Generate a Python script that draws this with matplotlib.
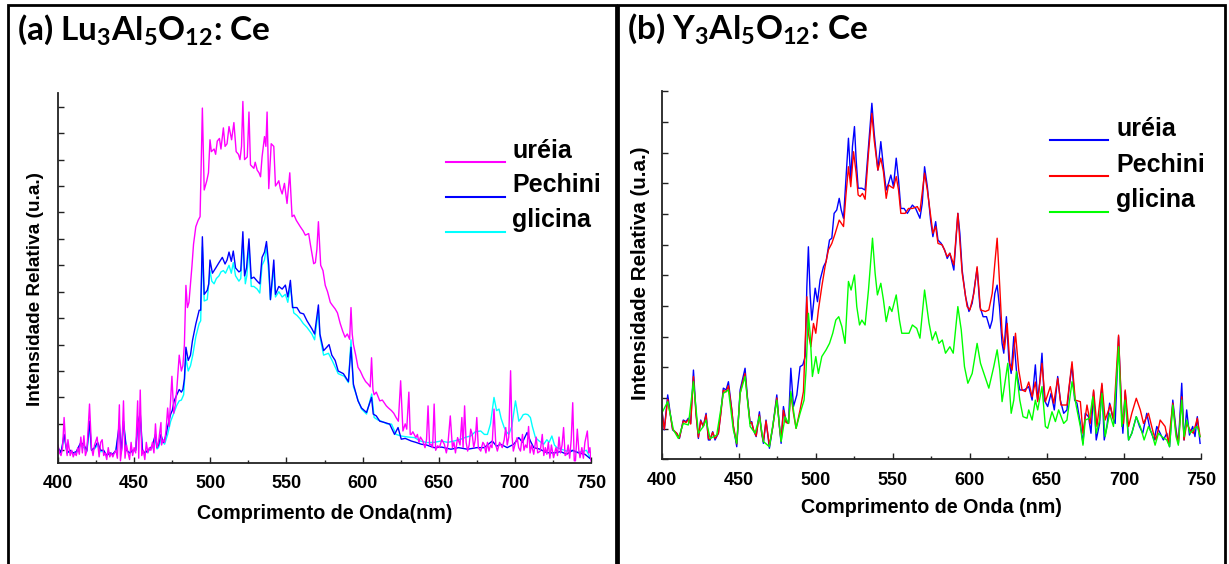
import matplotlib
matplotlib.use('Agg')
import matplotlib.pyplot as plt
from matplotlib.lines import Line2D

plt.rcParams['font.family'] = ['Liberation Sans', 'DejaVu Sans']
plt.rcParams['font.weight'] = 'bold'
plt.rcParams['mathtext.fontset'] = 'custom'
plt.rcParams['mathtext.rm'] = 'Lato:bold'
plt.rcParams['mathtext.bf'] = 'Lato:bold'

# (a) Lu3Al5O12:Ce  -- (comprimento de onda nm, intensidade relativa)
a_ureia = [
    (400, 0.2), (401, -0.1), (402, -0.2), (403, 0.1), (404, 1.24), (405, 0.3), (406, -0.2), (406.5, 0.4),
    (408, -0.2), (409, 0.0), (410, -0.25), (411, -0.1), (412, -0.2), (413, 0.1), (414, -0.15), (415, 0.5),
    (416, -0.1), (417, 0.55), (418, -0.2), (419, 0.0), (420.7, 1.75), (422, 0.1), (423, -0.2), (424, 0.2),
    (425.7, 0.5), (427, -0.25), (428, 0.3), (429, 0.4), (430, -0.2), (431, -0.1), (432, -0.35), (433, 0.1),
    (434, -0.25), (435, -0.1), (436, -0.25), (437, -0.1), (438, 0.0), (439, -0.3), (440.3, 1.72), (441, -0.4),
    (442, 0.1), (443, 1.87), (444, -0.3), (445, 0.2), (446, -0.1), (447, -0.35), (448, 0.3), (449, -0.2),
    (450, 0.1), (451, -0.1), (452.3, 1.87), (453, -0.3), (454, 2.28), (455, -0.2), (456, 0.0), (457, -0.35),
    (458, 0.3), (459, -0.1), (460, 0.1), (461, 0.0), (462, 0.3), (463, -0.1), (464, 1.0), (465, 0.1),
    (466, 0.3), (467.6, 1.05), (468, 0.2), (469, 0.4), (470, 0.3), (471, 0.8), (472, 1.6), (473, 0.9),
    (474.8, 2.8), (476, 1.4), (477, 1.7), (478, 2.3), (479.6, 3.6), (481, 3.0), (482, 3.2), (483, 4.0),
    (484, 6.24), (485, 5.4), (486, 5.6), (487, 6.3), (488, 7.0), (489, 7.8), (490.5, 8.46), (492, 8.7),
    (493.3, 8.84), (494.8, 12.95), (496, 9.85), (497.7, 10.2), (498.8, 10.5), (499.8, 11.75), (500.7, 11.3),
    (502.5, 11.4), (503.5, 11.2), (504.6, 11.7), (506, 11.8), (507, 11.4), (508.6, 12.2), (509.7, 11.5),
    (511, 11.6), (512.3, 12.25), (514, 11.75), (515.5, 12.4), (517, 11.3), (518.5, 11.2), (519.5, 11.0),
    (520.5, 11.5), (521.4, 13.2), (522.5, 11.0), (524.3, 11.1), (525.4, 12.8), (526.4, 10.8), (528.6, 10.67),
    (529.5, 10.9), (530.8, 10.6), (532, 10.5), (533, 10.35), (534, 11.1), (535.6, 11.87), (536.5, 11.5),
    (537.3, 12.8), (538.4, 9.9), (540, 11.6), (541.7, 11.5), (542.8, 10.0), (544, 10.1), (545, 10.2),
    (546, 9.9), (547.2, 9.7), (548.7, 10.1), (550.4, 9.34), (552.2, 10.5), (553.7, 8.84), (555, 8.9),
    (556.5, 8.7), (559.1, 8.46), (561, 8.3), (562.4, 8.14), (564.6, 8.2), (565.7, 7.8), (567.9, 7.06),
    (569, 7.1), (570, 7.6), (571, 8.65), (572.5, 7.0), (574, 6.8), (575.5, 6.24), (577, 6.0), (578.8, 5.6),
    (580, 5.5), (582, 5.35), (583.5, 5.2), (585.3, 4.8), (587, 4.5), (588.5, 4.28), (590, 4.4), (591.5, 4.2),
    (592.4, 5.4), (593.2, 4.4), (594, 4.0), (595.5, 3.6), (597, 3.14), (598.5, 3.0), (600.4, 2.76),
    (602, 2.6), (603.7, 2.5), (605, 2.4), (605.9, 3.5), (606.8, 2.3), (607.6, 2.1), (609, 2.2), (611.3, 1.87),
    (613, 1.9), (615.6, 1.68), (617, 1.6), (619, 1.5), (620.5, 1.4), (622, 1.24), (623.5, 1.1), (625, 2.63),
    (626.5, 0.73), (628, 1.0), (629, 0.8), (630.4, 2.2), (631.3, 0.6), (632, 0.6), (633, 0.7), (635, 0.48),
    (636, 0.6), (637, 0.3), (638, 0.5), (639.6, 0.35), (641, 0.1), (642, 0.4), (643, 1.68), (644, 0.2),
    (645, 0.23), (646, 0.1), (647, 1.75), (648, 0.0), (649.3, 0.17), (650.5, 0.1), (652, 0.4), (653.7, 0.23),
    (655, -0.1), (656, 0.2), (657.6, 1.3), (659, 0.1), (660, 0.3), (661, -0.1), (662.4, 0.48), (664, 0.2),
    (665.2, 1.24), (666, 0.1), (667, 1.68), (668, 0.3), (669, -0.03), (670, 0.2), (671, 0.8), (672, 0.6),
    (673, 0.1), (674, 0.4), (675, 1.24), (676, 0.1), (677.6, -0.03), (679, 0.3), (679.8, 0.23), (681, -0.1),
    (682, 0.3), (683, -0.03), (684, 0.2), (685, 0.1), (686.3, 1.56), (687.5, 0.2), (688.5, -0.03), (690, 0.3),
    (691.7, 0.1), (693, 0.4), (694, 0.86), (695, 0.2), (696, 0.5), (697.2, 3.01), (698.2, 0.5), (699, -0.03),
    (700, 0.2), (701.5, 0.48), (702.5, 0.1), (703.7, -0.03), (705, 0.6), (706, 0.0), (707, 0.2), (708, 0.1),
    (709, 0.9), (710, -0.1), (711, 0.2), (712.4, -0.15), (714, 0.5), (715, -0.1), (716.7, -0.03), (718, 0.6),
    (719, -0.2), (720, 0.1), (721, -0.15), (722, 0.3), (723, -0.3), (724, 0.2), (725.4, -0.28), (727, 0.1),
    (728, -0.2), (729, 0.5), (730, -0.1), (731, 0.2), (732, 0.86), (733, -0.2), (734, -0.15), (735, 0.2),
    (736, -0.3), (737, 0.4), (738, 1.8), (739, -0.4), (739.8, -0.4), (741, 0.8), (742, 0.0), (742.8, -0.28),
    (744, 0.1), (745, -0.3), (746, 0.3), (747.6, 0.73), (748.5, -0.1), (749.3, 0.1), (750, -0.4),
]
a_pechini = [
    (400, 0.1), (402, -0.1), (404, 0.6), (406, -0.1), (408, 0.0), (410, -0.1), (412, -0.05), (415, 0.3),
    (417, 0.2), (419, 0.0), (420.7, 1.1), (422, 0.0), (424, 0.1), (426, 0.3), (428, 0.0), (430, 0.0),
    (432, -0.2), (434, -0.1), (436, -0.15), (438, 0.0), (440.3, 1.0), (441.5, -0.1), (443, 1.1), (445, 0.0),
    (447, -0.1), (449, 0.0), (451, 0.0), (452.3, 1.0), (454, 1.4), (455.5, 0.0), (457, -0.1), (459, 0.0),
    (461, 0.1), (462, 0.2), (464, 0.6), (465, 0.1), (466, 0.2), (467.6, 0.6), (469, 0.3), (470, 0.4),
    (471, 0.6), (472, 0.9), (474, 1.37), (475, 1.5), (476.3, 1.87), (478, 2.1), (479.6, 2.3), (481, 2.2),
    (482, 2.3), (483, 2.7), (484, 3.9), (485.5, 3.4), (487, 3.6), (488.3, 4.15), (490.5, 4.78), (492.7, 5.3),
    (493.7, 5.3), (494.8, 8.08), (496, 5.9), (498, 6.05), (499, 6.3), (499.8, 7.2), (501.4, 6.7), (503.6, 6.9),
    (505.7, 7.1), (507.9, 7.3), (509.7, 7.05), (511, 7.2), (512.3, 7.5), (513.8, 7.15), (515.1, 7.54),
    (516.6, 6.9), (518.8, 6.75), (520, 6.8), (521.4, 8.27), (522.5, 6.6), (523.8, 6.9), (525.4, 8.0),
    (526.9, 6.5), (528.6, 6.55), (530.8, 6.4), (532.5, 6.3), (534, 7.3), (535.6, 7.5), (536.9, 7.9),
    (538.4, 7.0), (539.5, 5.7), (541.7, 7.2), (542.8, 5.9), (545, 6.2), (547.2, 6.1), (549.3, 6.25),
    (550.9, 5.8), (552.6, 6.43), (554, 5.4), (556.9, 5.4), (559, 5.2), (561.3, 5.16), (563.5, 4.9),
    (566.7, 4.6), (568.5, 4.4), (571, 5.5), (572, 4.4), (574.4, 3.77), (576.5, 3.9), (578, 4.0), (579.8, 3.6),
    (582, 3.4), (584, 3.0), (587.4, 2.9), (590.7, 2.6), (592.4, 3.9), (594, 2.5), (597, 1.87), (599.3, 1.6),
    (602.6, 1.43), (605.9, 2.0), (607, 1.37), (609, 1.3), (611.3, 1.1), (614.6, 1.05), (617.8, 0.99),
    (621, 0.6), (623.3, 0.86), (625.4, 0.42), (628, 0.45), (632, 0.35), (635, 0.3), (638.5, 0.23), (642, 0.2),
    (647, 0.1), (652, 0.12), (658, 0.04), (663, 0.1), (669, 0.04), (675, 0.1), (679.8, 0.1), (685.2, 0.35),
    (688, 0.15), (690.6, 0.23), (695, 0.1), (699.3, 0.23), (702.6, 0.48), (705, 0.3), (708, 0.67),
    (710.2, 0.35), (712.4, 0.1), (716, 0.05), (721, -0.09), (726, -0.1), (730, -0.05), (734, -0.15),
    (738, 0.0), (742, -0.1), (746, -0.15), (750, -0.34),
]
a_glicina = [
    (400, 0.05), (402, -0.1), (404, 0.5), (406, -0.1), (408, -0.05), (410, -0.1), (412, -0.1), (415, 0.2),
    (417, 0.1), (419, -0.05), (420.7, 0.9), (422, 0.0), (424, 0.05), (426, 0.2), (428, -0.05), (430, -0.05),
    (432, -0.2), (434, -0.1), (436, -0.15), (438, -0.05), (440.3, 0.8), (441.5, -0.1), (443, 0.9), (445, 0.0),
    (447, -0.1), (449, -0.05), (451, 0.0), (452.3, 0.8), (454, 1.1), (455.5, -0.05), (457, -0.1), (459, -0.05),
    (461, 0.05), (462, 0.1), (464, 0.4), (465, 0.05), (466, 0.1), (467.6, 0.4), (470, 0.23), (472, 0.6),
    (474, 1.1), (476, 1.4), (478, 1.7), (479.6, 1.87), (481, 1.9), (482.5, 2.1), (484, 3.5), (485.5, 3.0),
    (487, 3.2), (488.5, 3.6), (490.5, 4.3), (492.7, 4.8), (493.7, 4.9), (494.8, 7.7), (496, 5.65), (498, 5.7),
    (499.8, 6.8), (501, 6.4), (502.5, 6.3), (504, 6.5), (505.7, 6.6), (507, 6.75), (508.6, 6.8), (510, 6.7),
    (512.3, 7.0), (513.8, 6.7), (515.1, 7.1), (516.6, 6.6), (518.8, 6.4), (520, 6.5), (521.4, 7.95),
    (523, 6.3), (524, 6.6), (525.4, 7.7), (526.9, 6.2), (528.6, 6.2), (530.8, 6.1), (532.5, 5.95), (534, 7.0),
    (535.6, 7.2), (536.9, 7.7), (538.4, 6.7), (539.5, 5.7), (541.7, 6.9), (542.8, 5.8), (545, 6.0),
    (547.2, 5.8), (549.3, 5.9), (550.9, 5.6), (552.6, 6.2), (554.8, 5.2), (557, 5.1), (559, 4.97), (561, 4.8),
    (563.5, 4.65), (566.7, 4.4), (568.5, 4.18), (571, 5.3), (572, 4.3), (574.4, 3.6), (577.6, 3.67),
    (580, 3.4), (584, 2.9), (588, 2.8), (590.7, 2.56), (592.4, 4.18), (594, 2.4), (595, 2.25), (597, 1.9),
    (599.3, 1.56), (602.6, 1.37), (606, 2.13), (607.6, 1.24), (610, 1.15), (612.4, 1.1), (616, 1.0),
    (619, 0.99), (622, 0.6), (625.4, 0.54), (630, 0.5), (634, 0.48), (638, 0.35), (642.6, 0.29), (647, 0.3),
    (651.5, 0.35), (656, 0.3), (660, 0.35), (664.6, 0.42), (668, 0.5), (671, 0.54), (674, 0.7), (677.6, 0.73),
    (680, 0.6), (682, 0.6), (684, 1.0), (686.3, 2.0), (688, 1.5), (689.6, 1.56), (691, 1.2), (693, 0.86),
    (694.5, 0.7), (696, 0.6), (698, 0.9), (700.4, 1.87), (701.5, 1.5), (702.6, 1.1), (704, 1.2), (705.5, 1.35),
    (707, 1.37), (708.5, 1.35), (710.2, 1.24), (711.5, 0.9), (713.5, 0.48), (716, 0.35), (719, 0.23),
    (721, 0.4), (722.5, 0.3), (724.3, 0.54), (726, 0.2), (727.6, 0.1), (730, 0.05), (734, -0.03), (737, 0.0),
    (740.7, -0.09), (744, -0.05), (747, 0.0), (750, -0.34),
]

# (b) Y3Al5O12:Ce
b_ureia = [
    (400, 1.66), (401.7, 0.96), (403.9, 2.10), (405.4, 1.55), (407.1, 0.96), (409.7, 0.85), (411.5, 0.68),
    (414, 1.28), (415.8, 1.23), (417.3, 1.34), (418.8, 1.17), (420.6, 2.91), (422.3, 1.50), (423.8, 0.68),
    (425.3, 1.28), (427, 1.07), (428.8, 1.50), (430.3, 0.63), (431.4, 0.63), (433.1, 0.90), (434.6, 0.63),
    (436.8, 0.85), (438.3, 1.50), (440, 2.32), (441.8, 2.26), (443.3, 2.53), (445.5, 1.61), (446.5, 1.07),
    (448.7, 0.41), (450.9, 2.26), (452.4, 2.59), (454.1, 2.97), (455.6, 2.04), (457.4, 1.17), (458.4, 1.23),
    (459.5, 0.96), (461.3, 0.74), (463.4, 1.55), (464.9, 0.85), (466, 0.52), (467.7, 1.28), (469.9, 0.36),
    (472.1, 1.07), (474.7, 2.10), (476.4, 1.07), (477.5, 0.52), (479, 1.72), (480.7, 1.23), (482.3, 1.17),
    (483.8, 2.97), (485.5, 1.72), (487.7, 2.10), (489.8, 3.02), (491.6, 3.08), (493.1, 3.35), (494.2, 5.63),
    (495.2, 6.93), (496.3, 5.41), (497.4, 4.54), (499.6, 5.58), (501.1, 5.14), (502.8, 5.85), (505, 6.28),
    (506.7, 6.45), (508.9, 7.15), (510.4, 7.21), (511.9, 8.02), (513.6, 8.13), (515.2, 8.51), (516.5, 8.13),
    (518, 7.86), (519.5, 9.11), (521.2, 10.47), (522.7, 9.11), (523.8, 10.20), (525.1, 10.85), (526.2, 9.76),
    (527.5, 8.84), (529.9, 8.84), (532, 8.78), (534.2, 10.20), (536.4, 11.61), (537.9, 10.63), (540.3, 9.43),
    (542.2, 10.36), (543.9, 9.54), (545.7, 8.78), (547.2, 9.00), (548.7, 9.27), (550.4, 8.89), (552.2, 9.82),
    (553.7, 9.11), (555.2, 8.18), (557.3, 8.18), (559.4, 8.02), (562.7, 8.29), (564.8, 8.18), (567.6, 7.86),
    (569.1, 8.35), (570.6, 9.54), (572.4, 8.89), (574.5, 7.80), (576, 7.26), (577.8, 7.75), (579.3, 7.15),
    (581.4, 7.04), (583.6, 6.83), (585.3, 6.55), (587, 6.72), (588.6, 6.39), (589.6, 6.17), (592.2, 8.02),
    (593.5, 7.37), (595, 6.17), (597.2, 5.30), (599.4, 4.82), (601.5, 5.09), (603, 5.63), (604.7, 6.23),
    (606.5, 4.98), (608.6, 4.65), (610.8, 4.65), (613, 4.27), (614.5, 4.54), (616.2, 5.41), (617.7, 5.68),
    (619.2, 4.98), (620.9, 3.78), (622, 3.46), (623.7, 4.65), (625.3, 3.24), (626.8, 2.80), (628.5, 4.00),
    (630.2, 2.91), (632.4, 2.26), (635.4, 2.26), (638.2, 2.37), (640.4, 1.93), (642.5, 3.08), (644, 1.93),
    (645.3, 2.48), (646.8, 3.46), (648.3, 1.93), (650.5, 1.72), (652.7, 2.15), (654.8, 1.61), (657, 2.70),
    (658.7, 1.93), (660.9, 1.50), (663, 1.61), (664.5, 2.37), (666.3, 3.08), (668, 1.93), (669.5, 1.83),
    (671.7, 1.17), (673.4, 0.52), (674.9, 1.50), (677, 1.39), (678.6, 0.85), (680.3, 2.21), (682, 0.63),
    (684.2, 1.17), (685.7, 2.42), (687.2, 0.63), (688.9, 1.07), (690.7, 1.83), (692.6, 1.39), (694.3, 1.17),
    (696.5, 4.00), (698.6, 1.39), (699.3, 0.85), (700.8, 2.21), (703, 0.63), (705.1, 0.85), (708, 1.39),
    (710.1, 1.07), (712.2, 0.85), (714.8, 1.50), (717, 0.96), (719.6, 0.63), (721.3, 1.07), (723.5, 0.85),
    (725.6, 0.63), (727.8, 0.85), (729.6, 0.41), (731.7, 1.93), (733.8, 0.96), (735.3, 0.52), (737.5, 2.48),
    (739, 0.63), (740.7, 1.61), (742.5, 0.79), (744.6, 1.07), (746.1, 0.74), (747.6, 1.39), (749.4, 0.52),
]
b_pechini = [
    (400, 1.60), (401.7, 0.98), (403.9, 1.95), (405.4, 1.50), (407.1, 0.98), (409.7, 0.85), (411.5, 0.70),
    (414, 1.25), (415.8, 1.20), (417.3, 1.30), (418.8, 1.15), (420.6, 2.70), (422.3, 1.45), (423.8, 0.72),
    (425.3, 1.25), (427, 1.07), (428.8, 1.45), (430.3, 0.68), (431.4, 0.65), (433.1, 0.88), (434.6, 0.68),
    (436.8, 0.85), (438.3, 1.45), (440, 2.25), (441.8, 2.20), (443.3, 2.40), (445.5, 1.60), (446.5, 1.10),
    (448.7, 0.50), (450.9, 2.15), (452.4, 2.50), (454.1, 2.80), (455.6, 2.00), (457.4, 1.17), (458.4, 1.20),
    (459.5, 0.98), (461.3, 0.76), (463.4, 1.45), (464.9, 0.85), (466, 0.58), (467.7, 1.25), (469.9, 0.45),
    (472.1, 1.05), (474.7, 2.00), (476.4, 1.07), (477.5, 0.60), (479, 1.60), (480.7, 1.20), (482.3, 1.17),
    (483.8, 2.15), (485.5, 1.50), (487.2, 1.01), (489.8, 1.61), (492, 2.21), (494.2, 5.30), (495.2, 4.11),
    (496.8, 3.67), (498.5, 4.43), (500, 4.11), (501.7, 4.87), (503.9, 5.63), (506, 6.28), (508.2, 6.83),
    (510.4, 7.04), (512.6, 7.37), (515.2, 7.80), (518, 7.59), (519.5, 8.57), (521.2, 9.54), (522.7, 8.89),
    (524.5, 10.03), (526.2, 9.33), (527.5, 8.62), (528.8, 8.57), (530.3, 8.67), (532, 8.48), (534.2, 9.98),
    (536.4, 11.28), (537.9, 10.41), (540.3, 9.43), (542.2, 9.82), (543.9, 9.38), (545.7, 8.51), (547.2, 8.95),
    (548.7, 8.89), (550.4, 8.84), (552.2, 9.22), (553.7, 8.78), (555.2, 8.02), (558, 8.02), (560.2, 8.18),
    (562.7, 8.18), (565.9, 8.24), (567.6, 8.08), (570.6, 9.33), (572.4, 8.78), (576, 7.37), (577.8, 7.59),
    (579.3, 7.04), (582.1, 6.99), (585.3, 6.61), (587, 6.72), (589.6, 6.34), (592.2, 8.02), (595, 6.07),
    (598.2, 4.98), (600, 4.87), (602.6, 5.41), (604.7, 6.28), (606.9, 4.87), (610.1, 4.82), (612.3, 4.87),
    (614.5, 5.41), (616.2, 6.39), (617.7, 7.21), (619.4, 5.63), (620.9, 4.11), (622.4, 3.59), (624.2, 4.43),
    (625.9, 3.13), (627.4, 2.91), (629.6, 4.11), (631.7, 2.91), (633.9, 2.26), (636, 2.21), (638.2, 2.52),
    (640.4, 2.04), (642.5, 2.52), (644, 1.88), (646.8, 3.13), (649, 1.88), (652.2, 2.37), (654.4, 1.83),
    (657, 2.64), (659.1, 1.77), (663, 1.77), (666.3, 3.18), (668.4, 1.93), (671.7, 1.88), (673.4, 0.85),
    (676, 1.77), (678.1, 1.17), (680.3, 2.26), (682.5, 1.07), (685.7, 2.48), (687.8, 1.28), (691.1, 1.77),
    (693.2, 1.28), (696.5, 4.05), (698.6, 1.50), (699.7, 1.17), (700.8, 2.26), (703, 1.07), (705.1, 1.50),
    (708, 1.99), (710.6, 1.61), (712.7, 1.17), (715.9, 1.50), (719.1, 0.85), (720.8, 0.63), (723.5, 1.28),
    (726.7, 1.07), (728.9, 0.52), (731.7, 1.83), (733.8, 0.85), (735.3, 0.52), (737.5, 2.04), (739, 0.63),
    (740.7, 1.17), (742.9, 0.96), (745, 0.85), (747.6, 1.34), (749.4, 0.74),
]
b_glicina = [
    (400, 1.50), (403.9, 1.88), (407.6, 0.96), (410.8, 0.68), (414, 1.17), (417.3, 1.12), (420.6, 2.53),
    (423.8, 0.85), (427, 1.07), (428.8, 1.28), (431.4, 0.68), (435.7, 0.79), (440, 2.15), (443.3, 2.26),
    (446.5, 0.96), (448.7, 0.52), (450.9, 2.15), (454.1, 2.70), (457.4, 1.07), (460.6, 0.85), (463.4, 1.39),
    (466, 0.58), (469.9, 0.41), (474.7, 1.93), (477.5, 0.58), (480.1, 1.39), (482.3, 1.17), (483.8, 2.21),
    (485.5, 1.61), (487.2, 1.01), (489.8, 1.50), (492.4, 1.93), (493.7, 2.91), (495.2, 4.76), (496.3, 4.11),
    (497.8, 2.70), (500, 3.35), (501.7, 2.80), (503.9, 3.35), (506.7, 3.57), (508.9, 3.78), (511, 4.11),
    (513, 4.54), (514.9, 4.65), (516.9, 4.33), (519, 3.78), (521.2, 5.80), (522.9, 5.52), (525.1, 6.01),
    (526.6, 4.98), (528.4, 4.38), (529.9, 4.54), (532, 4.38), (534.2, 5.52), (536.8, 7.21), (538.5, 6.07),
    (540, 5.36), (542.2, 5.74), (543.9, 5.20), (545.7, 4.49), (547.8, 4.98), (549.4, 4.82), (552.2, 5.36),
    (554.3, 4.54), (555.8, 4.11), (558, 4.11), (560.5, 4.11), (562.7, 4.38), (565.5, 4.27), (567.6, 3.95),
    (570.6, 5.52), (573.5, 4.44), (575.6, 3.89), (577.8, 4.16), (579.9, 3.78), (582.1, 3.89), (584.2, 3.46),
    (587, 3.67), (589.2, 3.46), (592.2, 4.98), (594.4, 4.22), (596.5, 3.02), (598.7, 2.48), (601.5, 2.80),
    (604.7, 3.78), (606.9, 3.13), (609.1, 2.80), (612.3, 2.32), (615.5, 3.02), (617.7, 3.57), (619.4, 2.91),
    (620.9, 1.88), (622.4, 2.37), (624.6, 3.13), (626.8, 1.50), (628.5, 1.93), (630.2, 2.86), (632.4, 1.93),
    (634.5, 1.39), (637.1, 1.34), (638.2, 1.61), (640.4, 1.28), (642.5, 1.93), (644, 1.61), (646.8, 2.37),
    (649, 1.07), (650.5, 1.01), (653.3, 1.55), (655.5, 1.23), (657.6, 1.61), (660.9, 1.17), (663, 1.28),
    (666.3, 2.53), (669.1, 1.72), (671.7, 1.07), (673.4, 0.46), (674.9, 1.28), (677.7, 1.34), (679.8, 2.04),
    (682, 0.85), (684.2, 1.28), (685.7, 2.15), (687.8, 0.74), (690.7, 1.50), (693.2, 1.07), (696.5, 3.67),
    (698.6, 1.07), (700.8, 1.93), (703, 0.63), (705.1, 0.85), (708, 1.39), (710.6, 1.07), (713.1, 0.63),
    (715.9, 1.07), (718.1, 0.85), (720.2, 0.46), (722.4, 0.85), (724.5, 0.74), (727.8, 0.63), (729.6, 0.41),
    (731.7, 1.77), (733.8, 0.74), (735.3, 0.46), (737.5, 1.93), (739, 0.74), (740.7, 1.28), (742.9, 0.85),
    (745, 0.96), (747.6, 1.07), (749.4, 0.74),
]

labels = ['uréia', 'Pechini', 'glicina']
colors_a = ['#ff00ff', '#0000ff', '#00ffff']
colors_b = ['#0000ff', '#ff0000', '#00ff00']
titles = [r'(a) Lu$_{\mathrm{3}}$Al$_{\mathrm{5}}$O$_{\mathrm{12}}$: Ce',
          r'(b) Y$_{\mathrm{3}}$Al$_{\mathrm{5}}$O$_{\mathrm{12}}$: Ce']
xlabels = ['Comprimento de Onda(nm)', 'Comprimento de Onda (nm)']
ylabel = 'Intensidade Relativa (u.a.)'

W, H = 1229, 564


def fx(x):
    return x / W


def fy(y):
    return 1 - y / H


fig = plt.figure(figsize=(W / 100, H / 100), dpi=100)

# panel frames
for x0, x1 in ((8, 615.5), (617.5, 1225)):
    fig.add_artist(Line2D([fx(x0), fx(x0), fx(x1), fx(x1)], [fy(600), fy(5), fy(5), fy(600)],
                          color='black', lw=2, solid_joinstyle='miter'))

axA = fig.add_axes([fx(58), fy(462.7), (591 - 58) / W, (462.7 - 93) / H])
axB = fig.add_axes([fx(661.7), fy(459.3), (1201 - 661.7) / W, (459.3 - 91) / H])


def style(ax, ylim, yticks, xlabel, xlab_y, ylab_x, ylab_y, ylab_size):
    ax.set_xlim(400, 750)
    ax.set_ylim(*ylim)
    for s in ('top', 'right'):
        ax.spines[s].set_visible(False)
    for s in ('left', 'bottom'):
        ax.spines[s].set_linewidth(1.3)
        ax.spines[s].set_color('#222222')
    ax.set_xticks(range(400, 751, 50))
    ax.set_xticks(range(425, 751, 50), minor=True)
    ax.set_yticks(yticks)
    ax.set_yticklabels([])
    ax.tick_params(which='major', direction='in', length=4, width=1, color='#222222',
                   labelsize=13, pad=9)
    ax.tick_params(which='minor', direction='in', length=2.5, width=1, color='#222222')
    ax.set_xlabel(xlabel, fontsize=14.2, fontweight='bold')
    ax.xaxis.set_label_coords(0.5, xlab_y)
    ax.set_ylabel(ylabel, fontsize=ylab_size, fontweight='bold')
    ax.yaxis.set_label_coords(ylab_x, ylab_y)


for data, c in zip((a_glicina, a_pechini, a_ureia), colors_a[::-1]):
    xs, ys = zip(*data)
    axA.plot(xs, ys, color=c, lw=1)
style(axA, (-0.47, 13.52), range(0, 14), xlabels[0], -0.112, -0.026, 0.47, 13.7)

for data, c in zip((b_ureia, b_pechini, b_glicina), colors_b):
    xs, ys = zip(*data)
    axB.plot(xs, ys, color=c, lw=1)
style(axB, (0, 12.01), range(0, 13), xlabels[1], -0.105, -0.022, 0.506, 14.8)

# titles
fig.text(fx(17), fy(40.5), titles[0], fontsize=24, fontfamily='Lato', fontweight='bold', va='baseline')
fig.text(fx(627), fy(39.5), titles[1], fontsize=24, fontfamily='Lato', fontweight='bold', va='baseline')

# legends (line under-left of label, as in the original)
for (lx0, lx1, tx, ys_), cols in (((446, 505, 512, (162, 197, 232)), colors_a),
                                  ((1050, 1108, 1116, (140, 176, 212)), colors_b)):
    for lab, col, yy in zip(labels, cols, ys_):
        fig.add_artist(Line2D([fx(lx0), fx(lx1)], [fy(yy), fy(yy)], color=col, lw=1.5))
        fig.text(fx(tx), fy(yy - 4.5), lab, fontsize=18, fontweight='bold', va='baseline')

fig.savefig('out.png', dpi=100)
